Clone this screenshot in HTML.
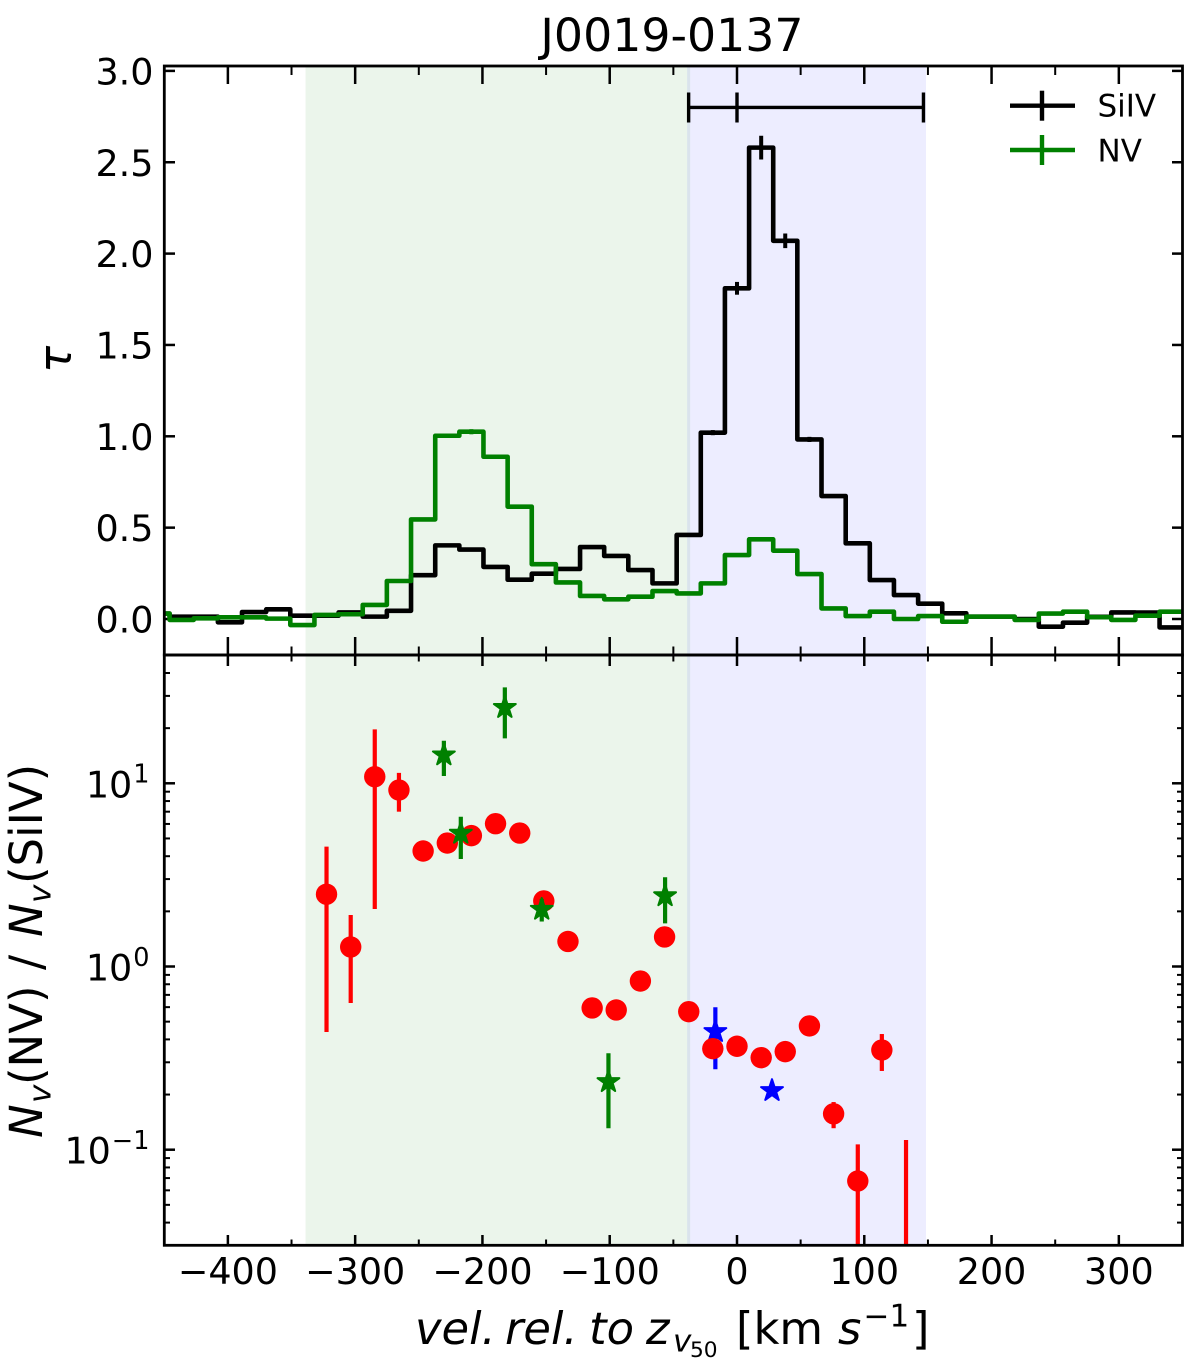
<!DOCTYPE html>
<html lang="en">
<head>
<meta charset="utf-8">
<title>J0019-0137</title>
<style>
html,body{margin:0;padding:0;background:#fff;}
svg{display:block;}
text{font-family:"DejaVu Sans","Liberation Sans",sans-serif;fill:#000;}
.it{font-style:italic;}
</style>
</head>
<body>
<svg id="chart" xmlns="http://www.w3.org/2000/svg" width="1200" height="1371" viewBox="0 0 1200 1371">
  <defs>
    <clipPath id="clip-top"><rect x="164.3" y="66" width="1018.2" height="589"/></clipPath>
    <clipPath id="clip-bottom"><rect x="164.3" y="655" width="1018.2" height="590.3"/></clipPath>
  </defs>
  <rect x="0" y="0" width="1200" height="1371" fill="#fff"/>
  <g id="spans"></g>
  <g id="ticks"></g>
  <g id="top-series" clip-path="url(#clip-top)"></g>
  <g id="bottom-series" clip-path="url(#clip-bottom)"></g>
  <g id="tick-labels" font-size="36.5"></g>

  <g fill="none" stroke="#000" stroke-width="2.8">
    <rect x="164.3" y="66" width="1018.2" height="589"/>
    <rect x="164.3" y="655" width="1018.2" height="590.3"/>
  </g>

  <text x="672" y="51" font-size="45.8" text-anchor="middle">J0019-0137</text>

  <g>
    <g>
      <line x1="1010" x2="1075" y1="105.7" y2="105.7" stroke="#000" stroke-width="4.4"/>
      <line x1="1042" x2="1042" y1="90.7" y2="120.7" stroke="#000" stroke-width="4.4"/>
      <text x="1097.5" y="116.7" font-size="31">SiIV</text>
    </g>
    <g>
      <line x1="1010" x2="1075" y1="150" y2="150" stroke="#008000" stroke-width="4.4"/>
      <line x1="1042" x2="1042" y1="135" y2="165" stroke="#008000" stroke-width="4.4"/>
      <text x="1097.5" y="161.7" font-size="31">NV</text>
    </g>
  </g>

  <text class="it" font-size="45" transform="translate(71,373) rotate(-90)">τ</text>

  <g font-size="45" transform="translate(42,1138) rotate(-90)">
    <text class="it" x="0" y="0">N</text>
    <text class="it" x="35" y="8.3" font-size="31">v</text>
    <text x="53" y="0">(NV)</text>
    <text x="168" y="0">/</text>
    <text class="it" x="201" y="0">N</text>
    <text class="it" x="235" y="8.3" font-size="31">v</text>
    <text x="254" y="0">(SiIV)</text>
  </g>

  <g font-size="44.8">
    <text class="it" x="415" y="1344">vel.</text>
    <text class="it" x="505" y="1344">rel.</text>
    <text class="it" x="589" y="1344">to</text>
    <text class="it" x="646" y="1344">z</text>
    <text class="it" x="673" y="1351.5" font-size="31">v</text>
    <text x="690" y="1357" font-size="21.7">50</text>
    <text x="736" y="1344">[km</text>
    <text class="it" x="838" y="1344">s</text>
    <text x="863.5" y="1326.7" font-size="31">−1</text>
    <text x="912" y="1344">]</text>
  </g>
</svg>

<script>
// ---- Top panel data (optical depth per velocity bin, km/s) ----
const velocityBins = [-455.3,-436.3,-417.3,-398.4,-379.4,-360.4,-341.5,-322.5,-303.5,-284.6,-265.6,-246.6,-227.6,-208.7,-189.7,-170.7,-151.8,-132.8,-113.8,-94.9,-75.9,-56.9,-37.9,-19,0,19,37.9,56.9,75.9,94.9,113.8,132.8,151.8,170.7,189.7,208.7,227.6,246.6,265.6,284.6,303.5,322.5,341.5,360.4];
const tauSiIV = [0.03,0.013,0.013,-0.018,0.038,0.053,0.018,0.018,0.036,0.013,0.045,0.24,0.403,0.38,0.285,0.215,0.248,0.274,0.394,0.345,0.268,0.195,0.46,1.02,1.81,2.58,2.07,0.983,0.673,0.414,0.213,0.131,0.084,0.031,0.013,0.013,0,-0.042,-0.02,0.012,0.036,0.035,-0.046,-0.046];
const tauNV = [0.03,-0.005,0.004,0.009,0.009,0.002,-0.033,0.022,0.026,0.077,0.208,0.545,1.003,1.025,0.888,0.615,0.30,0.20,0.126,0.108,0.122,0.153,0.14,0.195,0.35,0.436,0.374,0.246,0.058,0.016,0.04,0,0.016,-0.015,0.013,0.013,-0.005,0.03,0.04,0.01,-0.005,0.018,0.04,0.04];
const tauSiIVErr = [0,0,0,0,0,0,0,0,0,0,0,0.005,0.01,0.01,0.005,0.005,0.005,0.005,0.005,0.005,0.005,0.005,0.005,0.014,0.035,0.065,0.04,0.014,0.01,0.006,0,0,0,0,0,0,0,0,0,0,0,0,0,0];
const tauNVErr = [0,0,0,0,0,0,0,0,0,0,0,0,0.012,0.014,0.012,0.005,0,0,0,0,0,0,0,0,0,0,0,0,0,0,0,0,0,0,0,0,0,0,0,0,0,0,0,0];
const barRange = [-38, 0, 146.5];
const barLevel = [2.8];

// ---- Bottom panel data: column density ratios ----
const ratioVelocities = [-322.5,-303.5,-284.6,-265.6,-246.6,-227.6,-208.7,-189.7,-170.7,-151.8,-132.8,-113.8,-94.9,-75.9,-56.9,-37.9,-19,0,19,37.9,56.9,75.9,94.9,113.8,132.8];
const ratioValues = [2.48,1.278,10.86,9.19,4.27,4.72,5.18,6.02,5.35,2.28,1.37,0.594,0.579,0.833,1.45,0.567,0.356,0.367,0.318,0.343,0.474,0.157,0.0675,0.35,0.02];
const ratioErrHigh = [4.51,1.91,19.7,11.4,4.5,5,5.5,6.4,5.6,2.4,1.42,0.62,0.6,0.86,1.5,0.59,0.37,0.38,0.33,0.355,0.49,0.182,0.107,0.428,0.113];
const ratioErrLow = [0.439,0.632,2.06,7.0,4.05,4.45,4.9,5.7,5.1,2.15,1.32,0.57,0.56,0.8,1.4,0.545,0.34,0.355,0.305,0.33,0.455,0.131,0.01,0.269,0.005];

const greenStarVel = [-230.3,-217,-182.4,-153.4,-101,-56.5];
const greenStarVal = [14.27,5.33,25.9,2.05,0.235,2.43];
const greenStarHigh = [17.08,6.57,33.4,2.34,0.336,3.07];
const greenStarLow = [10.96,3.86,17.6,1.76,0.131,1.72];

const blueStarVel = [-17,27.5];
const blueStarVal = [0.441,0.21];
const blueStarHigh = [0.599,0.22];
const blueStarLow = [0.275,0.2];

// ---- Shaded regions and tick labels ----
const greenSpan = [-339, -38];
const blueSpan = [-38, 148.5];
const xTickValues = [-400,-300,-200,-100,0,100,200,300];
const xMinorValues = [-450,-350,-250,-150,-50,50,150,250,350];
const xTickLabels = ["−400","−300","−200","−100","0","100","200","300"];
const tauTickValues = [0,0.5,1,1.5,2,2.5,3];
const tauTickLabels = ["0.0","0.5","1.0","1.5","2.0","2.5","3.0"];
const ratioDecades = [-1,0,1];
const ratioDecadeLabels = ["−1","0","1"];
const minorDecades = [-2,-1,0,1];
const minorMultipliers = [2,3,4,5,6,7,8,9];

// ---- Axis functions ----
const xScale = v => 737 + v * 1.2728;
const yTau = t => 619 - t * 182.7;
const yRatio = v => 966.5 - Math.log10(v) * 183.2;

const NS = 'http://www.w3.org/2000/svg';
function make(tag, parent, attrs, text) {
  const el = document.createElementNS(NS, tag);
  for (const k in attrs) el.setAttribute(k, attrs[k]);
  if (text !== undefined) el.textContent = text;
  parent.appendChild(el);
  return el;
}
const spansG = document.getElementById('spans');
const ticksG = document.getElementById('ticks');
const topG = document.getElementById('top-series');
const botG = document.getElementById('bottom-series');
const labelsG = document.getElementById('tick-labels');

// Shaded spans
const gs = make('rect', spansG, {x: xScale(greenSpan[0]), y: 66, width: xScale(greenSpan[1]) - xScale(greenSpan[0]) + 1.5, height: 1179.3, fill: '#008000', 'fill-opacity': 0.08});


const bs = make('rect', spansG, {x: xScale(blueSpan[0]) - 1.5, y: 66, width: xScale(blueSpan[1]) - xScale(blueSpan[0]) + 1.5, height: 1179.3, fill: '#0000ff', 'fill-opacity': 0.07});



// Ticks
function tickLine(name, x1, y1, x2, y2, w) {
  const l = make('line', ticksG, {x1, y1, x2, y2, stroke: '#000', 'stroke-width': w});
  
  
}
xTickValues.forEach(v => {
  const x = xScale(v);
  tickLine('x-major-tick', x, 66, x, 84, 2.5);
  tickLine('x-major-tick', x, 637, x, 655, 2.5);
  tickLine('x-major-tick', x, 655, x, 666, 2.5);
  tickLine('x-major-tick', x, 1235, x, 1245.3, 2.5);
});
xMinorValues.forEach(v => {
  const x = xScale(v);
  tickLine('x-minor-tick', x, 66, x, 75, 2);
  tickLine('x-minor-tick', x, 646.5, x, 655, 2);
  tickLine('x-minor-tick', x, 655, x, 661.5, 2);
  tickLine('x-minor-tick', x, 1239.5, x, 1245.3, 2);
});
tauTickValues.forEach(t => {
  const y = yTau(t);
  tickLine('tau-major-tick', 164.3, y, 175, y, 2.5);
  tickLine('tau-major-tick', 1172, y, 1182.5, y, 2.5);
});
ratioDecades.forEach(d => {
  const y = yRatio(Math.pow(10, d));
  tickLine('ratio-major-tick', 164.3, y, 175, y, 2.5);
  tickLine('ratio-major-tick', 1172, y, 1182.5, y, 2.5);
});
minorDecades.forEach(d => {
  minorMultipliers.forEach(m => {
    const y = yRatio(m * Math.pow(10, d));
    if (y < 656 || y > 1244) return;
    tickLine('ratio-minor-tick', 164.3, y, 170, y, 2);
    tickLine('ratio-minor-tick', 1177, y, 1182.5, y, 2);
  });
});

// Tick labels
xTickValues.forEach((v, i) => {
  const t = make('text', labelsG, {x: xScale(v), y: 1284, 'text-anchor': 'middle'}, xTickLabels[i]);
  
  
});
tauTickValues.forEach((v, i) => {
  const t = make('text', labelsG, {x: 153.5, y: yTau(v) + 13.5, 'text-anchor': 'end'}, tauTickLabels[i]);
  
  
});
ratioDecades.forEach((d, i) => {
  const y = yRatio(Math.pow(10, d));
  const t = make('text', labelsG, {x: 149.5, y: y + 14, 'text-anchor': 'end'});
  
  
  const base = make('tspan', t, {}, '10');
  
  
  const sup = make('tspan', t, {dy: -14.6, 'font-size': 25.5, dx: 1}, ratioDecadeLabels[i]);
  
  
});

// Step series
function stepPath(vals) {
  let d = 'M' + xScale(velocityBins[0]) + ' ' + yTau(vals[0]);
  for (let i = 1; i < vals.length; i++) {
    const mid = xScale((velocityBins[i - 1] + velocityBins[i]) / 2);
    d += ' H' + mid + ' V' + yTau(vals[i]);
  }
  d += ' H' + xScale(velocityBins[velocityBins.length - 1]);
  return d;
}
function stepErrors(vals, errs, color, name) {
  vals.forEach((v, i) => {
    if (!errs[i]) return;
    const x = xScale(velocityBins[i]);
    const e = make('line', topG, {x1: x, x2: x, y1: yTau(v + errs[i]), y2: yTau(v - errs[i]), stroke: color, 'stroke-width': 4});
    
    
  });
}
stepErrors(tauSiIV, tauSiIVErr, '#000', 'siiv-errorbar');
const siivLine = make('path', topG, {d: stepPath(tauSiIV), fill: 'none', stroke: '#000', 'stroke-width': 4.6, 'stroke-linejoin': 'round'});


stepErrors(tauNV, tauNVErr, '#008000', 'nv-errorbar');
const nvLine = make('path', topG, {d: stepPath(tauNV), fill: 'none', stroke: '#008000', 'stroke-width': 4.6, 'stroke-linejoin': 'round'});



// Velocity bar at top
const hb = make('line', topG, {x1: xScale(barRange[0]), x2: xScale(barRange[2]), y1: yTau(barLevel[0]), y2: yTau(barLevel[0]), stroke: '#000', 'stroke-width': 3.4});


barRange.forEach(v => {
  const c = make('line', topG, {x1: xScale(v), x2: xScale(v), y1: yTau(barLevel[0]) - 15, y2: yTau(barLevel[0]) + 15, stroke: '#000', 'stroke-width': 3.4});
  
  
});

// Lower panel marks
function starPoints(cx, cy, R) {
  const r = R * 0.381966;
  const pts = [];
  for (let i = 0; i < 10; i++) {
    const a = -Math.PI / 2 + i * Math.PI / 5;
    const q = i % 2 ? r : R;
    pts.push((cx + q * Math.cos(a)).toFixed(2) + ',' + (cy + q * Math.sin(a)).toFixed(2));
  }
  return pts.join(' ');
}
function errLine(x, hi, lo, color, name) {
  const e = make('line', botG, {x1: x, x2: x, y1: yRatio(hi), y2: yRatio(lo), stroke: color, 'stroke-width': 4.2});
  
  
}
function drawStars(vel, val, high, low, color, prefix) {
  vel.forEach((v, i) => {
    const x = xScale(v);
    errLine(x, high[i], low[i], color, prefix + '-errorbar');
    const s = make('polygon', botG, {points: starPoints(x, yRatio(val[i]), 11.5), fill: color, stroke: color, 'stroke-width': 2, 'stroke-linejoin': 'round'});
    
    
  });
}
drawStars(blueStarVel, blueStarVal, blueStarHigh, blueStarLow, '#0000ff', 'blue');
ratioVelocities.forEach((v, i) => {
  const x = xScale(v);
  errLine(x, ratioErrHigh[i], ratioErrLow[i], '#ff0000', 'ratio-errorbar');
  const c = make('circle', botG, {cx: x, cy: yRatio(ratioValues[i]), r: 10.7, fill: '#ff0000'});
  
  
});
drawStars(greenStarVel, greenStarVal, greenStarHigh, greenStarLow, '#008000', 'green');
</script>
</body>
</html>
